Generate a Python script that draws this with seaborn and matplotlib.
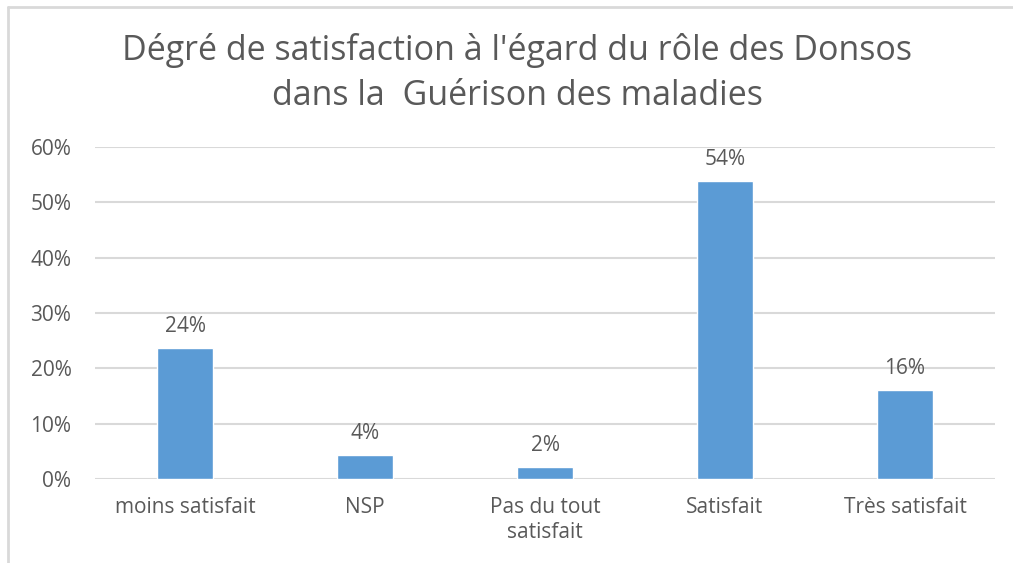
import matplotlib
matplotlib.use("Agg")
import matplotlib.pyplot as plt
from matplotlib.lines import Line2D
from matplotlib.ticker import PercentFormatter
import pandas as pd
import seaborn as sns

# Data
categories = ["moins satisfait", "NSP", "Pas du tout\nsatisfait", "Satisfait", "Très satisfait"]
values = [0.236, 0.043, 0.022, 0.539, 0.161]
yticks = [0, 0.1, 0.2, 0.3, 0.4, 0.5, 0.6]
title = "Dégré de satisfaction à l'égard du rôle des Donsos\ndans la  Guérison des maladies"

TEXT = "#595959"
BAR = "#5B9BD5"
GRID = "#D9D9D9"

sns.set_theme(style="whitegrid")
plt.rcParams['font.family'] = ['Open Sans', 'DejaVu Sans']

df = pd.DataFrame({"cat": categories, "val": values})

W, H = 1013, 563
fig = plt.figure(figsize=(W / 100, H / 100), dpi=100)
ax = fig.add_axes([95 / W, 1 - 479 / H, 900 / W, 332 / H])

sns.barplot(data=df, x="cat", y="val", color=BAR, width=0.31, saturation=1, ax=ax)

ax.set_ylim(0, 0.6)
ax.set_yticks(yticks)
ax.yaxis.set_major_formatter(PercentFormatter(1.0, decimals=0))
ax.set_xlim(-0.5, len(categories) - 0.5)
ax.set_xlabel("")
ax.set_ylabel("")
ax.grid(axis="y", color=GRID, linewidth=1.5)
ax.grid(axis="x", visible=False)
for s in ax.spines.values():
    s.set_visible(False)
ax.tick_params(axis="y", colors=TEXT, labelsize=15, pad=17, length=0)
ax.tick_params(axis="x", colors=TEXT, labelsize=15, pad=13, length=0)
for lbl in ax.get_xticklabels():
    lbl.set_linespacing(1.25)
ax.set_axisbelow(True)

for i, v in enumerate(values):
    ax.annotate(f"{v:.0%}", (i, v), xytext=(0, 8), textcoords="offset points",
                ha="center", va="bottom", color=TEXT, fontsize=15)

fig.text(517 / W, 1 - 73 / H, title, ha="center", va="center", color=TEXT,
         fontsize=24.5, linespacing=1.4)

# chart frame (left and top edges visible)
fig.add_artist(Line2D([8 / W, 8 / W], [0, 1 - 7 / H], color=GRID, linewidth=2))
fig.add_artist(Line2D([8 / W, 1], [1 - 7 / H, 1 - 7 / H], color=GRID, linewidth=2))

fig.savefig("out.png", dpi=100, facecolor="white")
